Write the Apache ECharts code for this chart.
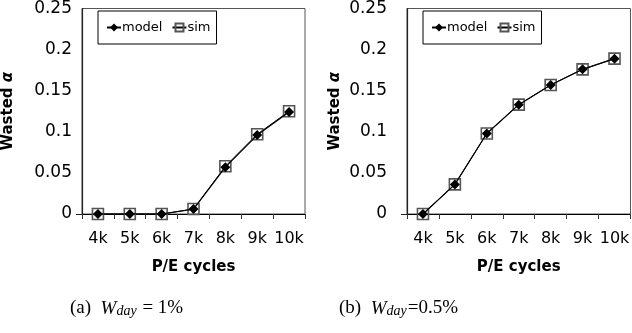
<!DOCTYPE html>
<html>
<head>
<meta charset="utf-8">
<script src="https://cdn.jsdelivr.net/npm/echarts@6/dist/echarts.min.js"></script>
<style>
  html, body { margin: 0; padding: 0; background: #fff; }
  #main { width: 632px; height: 333px; }
</style>
</head>
<body>
<div id="main"></div>
<script>
// P/E cycles
var cycles = ["4k", "5k", "6k", "7k", "8k", "9k", "10k"];
// (a) W_day = 1%
var modelA = [0, 0, 0, 0.006, 0.057, 0.096, 0.124];
var simA = [0, 0, 0, 0.006, 0.058, 0.097, 0.125];
// (b) W_day = 0.5%
var modelB = [0, 0.036, 0.098, 0.133, 0.157, 0.176, 0.189];
var simB = [0, 0.036, 0.098, 0.133, 0.157, 0.176, 0.189];

var chart = echarts.init(document.getElementById("main"));
var font = "DejaVu Sans";

function xAxisCfg(i) {
  return {
    type: "category",
    gridIndex: i,
    data: cycles,
    boundaryGap: true,
    axisLine: { lineStyle: { color: "#000", width: 1.2 } },
    axisTick: { show: true, interval: 0, length: 5, lineStyle: { color: "#333" } },
    axisLabel: { color: "#000", fontFamily: font, fontSize: 16, margin: 17, interval: 0, hideOverlap: false },
    name: "P/E cycles",
    nameLocation: "middle",
    nameGap: 46,
    nameTextStyle: { color: "#000", fontFamily: font, fontSize: 15, fontWeight: "bold" }
  };
}

function yAxisCfg(i, labelMargin, nameGap) {
  return {
    type: "value",
    gridIndex: i,
    min: 0,
    max: 0.25,
    interval: 0.05,
    axisLine: { show: true, lineStyle: { color: "#222", width: 1.2 } },
    axisTick: { show: true, customValues: [0], length: 6, lineStyle: { color: "#222" } },
    splitLine: { lineStyle: { color: "#bdbdbd", width: 1 } },
    axisLabel: { color: "#000", fontFamily: font, fontSize: 17, margin: labelMargin },
    name: "{b|Wasted }{i|α}",
    nameLocation: "middle",
    nameRotate: 90,
    nameGap: nameGap,
    nameTextStyle: {
      rich: {
        b: { fontFamily: font, fontSize: 15, fontWeight: "bold", color: "#000" },
        i: { fontFamily: font, fontSize: 15, fontWeight: "bold", fontStyle: "italic", color: "#000" }
      }
    }
  };
}

function modelSeries(i, data) {
  return {
    name: "model", type: "line", xAxisIndex: i, yAxisIndex: i, data: data,
    symbol: "diamond", symbolSize: 10, z: 4,
    lineStyle: { color: "#000", width: 1.2 },
    itemStyle: { color: "#000" }
  };
}

function simSeries(i, data) {
  return {
    name: "sim", type: "line", xAxisIndex: i, yAxisIndex: i, data: data,
    symbol: "rect", symbolSize: 11, z: 3,
    lineStyle: { color: "#000", width: 1 },
    itemStyle: { color: "rgba(0,0,0,0)", borderColor: "#555", borderWidth: 1.6 }
  };
}

function legendCfg(left) {
  return {
    left: left, top: 11,
    data: ["model", "sim"],
    orient: "horizontal",
    backgroundColor: "#fff",
    borderColor: "#000",
    borderWidth: 1,
    padding: [10, 6, 10, 8],
    itemWidth: 14,
    itemHeight: 10,
    itemGap: 9,
    selectedMode: false,
    textStyle: { color: "#000", fontFamily: font, fontSize: 13, padding: [0, 0, 0, -4] }
  };
}

var capRich = {
  n: { fontFamily: "Liberation Serif", fontSize: 19, color: "#000", verticalAlign: "bottom", lineHeight: 22 },
  w: { fontFamily: "Liberation Serif", fontSize: 19, fontStyle: "italic", color: "#000", verticalAlign: "bottom", lineHeight: 22 },
  s: { fontFamily: "Liberation Serif", fontSize: 14, fontStyle: "italic", color: "#000", verticalAlign: "bottom", lineHeight: 6, padding: [0, 1, 0, 0] }
};

var option = {
  animation: false,
  backgroundColor: "#fff",
  grid: [
    { left: 81, top: 8, width: 224, height: 206, show: true, borderColor: "#555", borderWidth: 1 },
    { left: 407, top: 8, width: 228, height: 206, show: true, borderColor: "#555", borderWidth: 1 }
  ],
  xAxis: [xAxisCfg(0), xAxisCfg(1)],
  yAxis: [yAxisCfg(0, 10, 66), yAxisCfg(1, 20, 64)],
  legend: [legendCfg(98), legendCfg(423)],
  series: [
    simSeries(0, simA), modelSeries(0, modelA),
    simSeries(1, simB), modelSeries(1, modelB)
  ],
  graphic: [
    {
      type: "text", left: 70, top: 299,
      style: { text: "{n|(a)  }{w|W}{s|day}{n| = 1%}", rich: capRich }
    },
    {
      type: "text", left: 339, top: 299,
      style: { text: "{n|(b)  }{w|W}{s|day}{n|=0.5%}", rich: capRich }
    }
  ]
};

chart.setOption(option);
</script>
</body>
</html>
